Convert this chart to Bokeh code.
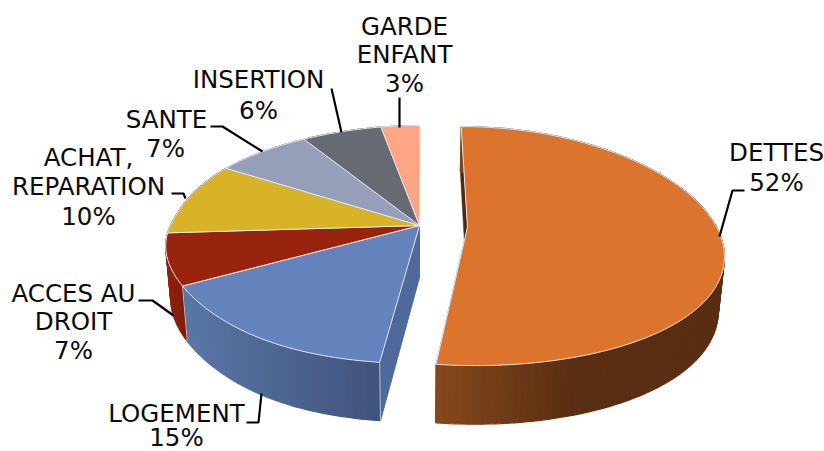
import numpy as np
from bokeh.plotting import figure
from bokeh.models import Range1d
from bokeh.core.properties import value
from bokeh.embed import file_html
from bokeh.resources import INLINE

# ---- data (clockwise from 12 o'clock) ----
categories = ["DETTES", "LOGEMENT", "ACCES AU DROIT", "ACHAT, REPARATION", "SANTE", "INSERTION", "GARDE ENFANT"]
percentages = [52, 15, 7, 10, 7, 6, 3]

# ---- styles ----
top_colors = ["#DD742D", "#6482BC", "#98230E", "#D8B227", "#959FB9", "#676A72", "#FDA585"]
wall_start = ["#86481C", "#5A77A6", "#8F220D", "#8F220D", "#5F6576", "#42444A", "#A16A55"]
wall_end = ["#5A2E12", "#40537C", "#7F1E0B", "#8F220D", "#5F6576", "#42444A", "#A16A55"]
wall_stop = [0.48, 1, 1, 1, 1, 1, 1]
face_colors = ["#4F2810", "#4F6A9A", "#7F1E0B", "#8A7119", "#5F6576", "#42444A", "#A16A55"]
explode = [0.193, 0, 0, 0, 0, 0, 0]
EDGE = "#E3E6EE"

# ---- layout of the perspective pie, in page pixels ----
CX, CY, RX, RY = 419.0, 225.0, 249.0, 116.0
PX, PY, PE = 0.22, 0.16, 0.15
SHRINK = 0.98

label_lines = [
    ("GARDE", 404, 26), ("ENFANT", 404, 54), ("3%", 404, 83),
    ("INSERTION", 258, 79), ("6%", 258, 110),
    ("SANTE", 166, 119), ("7%", 165, 148),
    ("ACHAT,", 88, 157), ("REPARATION", 88, 186), ("10%", 88, 216),
    ("ACCES AU", 73, 293), ("DROIT", 73, 321), ("7%", 73, 350),
    ("LOGEMENT", 176, 413), ("15%", 176, 437),
    ("DETTES", 776, 152), ("52%", 776, 182),
]
leaders = [
    ([744, 732, 719], [190, 190, 236]),
    ([210, 222, 262], [126, 126, 151]),
    ([331, 341], [88, 132]),
    ([399, 399], [97, 127]),
    ([171, 183, 185], [193, 193, 198]),
    ([138, 152, 173], [300, 300, 315]),
    ([246, 258, 261], [422, 422, 393]),
]


def project(theta, ex=0.0, ey=0.0):
    x = np.sin(theta)
    y = np.cos(theta)
    d = 1 + PX * y - 0.15 * y * np.abs(y) * (1 - y ** 2) * (x < 0)
    X = CX + RX * (x / d + ex / (1 + PE * y))
    y2 = y + ey
    return X, CY - RY * y2 / (1 + PY * y2), y2


def lower(X, Y, y):
    return CX + (X - CX) * SHRINK, Y + 52 - 6.5 * y


def mix(a, b, t):
    ca = [int(a[i:i + 2], 16) for i in (1, 3, 5)]
    cb = [int(b[i:i + 2], 16) for i in (1, 3, 5)]
    return "#%02x%02x%02x" % tuple(round(u + (v - u) * t) for u, v in zip(ca, cb))


total = sum(percentages)
edges = np.cumsum([0] + percentages) / total * 2 * np.pi

p = figure(width=824, height=451, output_backend="svg", toolbar_location=None,
           x_range=Range1d(0, 824), y_range=Range1d(451, 0),
           min_border=0, outline_line_color=None, background_fill_color="white")
p.axis.visible = False
p.grid.visible = False

wall_xs, wall_ys, wall_cs = [], [], []
face_xs, face_ys, face_cs = [], [], []
top_xs, top_ys, top_cs = [], [], []
seam_xs, seam_ys = [], []

for i, pct in enumerate(percentages):
    a0, a1 = edges[i], edges[i + 1]
    mid = (a0 + a1) / 2
    ex, ey = explode[i] * np.sin(mid), explode[i] * np.cos(mid)
    th = np.linspace(a0, a1, max(6, int(pct * 3)))
    X, Y, y = project(th, ex, ey)
    BX, BY = lower(X, Y, y)
    apx = CX + RX * ex
    apy = CY - RY * ey / (1 + PY * ey)
    abx, aby = lower(np.array([apx]), np.array([apy]), np.array([ey]))

    # cut faces of the slice
    for k in (0, -1):
        face_xs.append([apx, X[k], BX[k], abx[0]])
        face_ys.append([apy, Y[k], BY[k], aby[0]])
        face_cs.append(face_colors[i])

    # outer wall, in overlapping strips to shade it from left to right
    x0, x1 = X.min(), X.max()
    order = np.argsort((X[:-1] + X[1:]) / 2)
    for j in order:
        n = j + 1
        t = ((X[j] + X[n]) / 2 - x0) / (x1 - x0) / wall_stop[i]
        wall_xs.append([X[j], X[n], BX[n], BX[j]])
        wall_ys.append([Y[j], Y[n], BY[n], BY[j]])
        wall_cs.append(mix(wall_start[i], wall_end[i], min(t, 1)))

    top_xs.append([apx] + list(X))
    top_ys.append([apy] + list(Y))
    top_cs.append(top_colors[i])

    # seam between walls, on the front half
    if i == 1:
        seam_xs += [[X[0], BX[0]], [X[-1], BX[-1]]]
        seam_ys += [[Y[0], BY[0]], [Y[-1], BY[-1]]]

p.patches(face_xs, face_ys, fill_color=face_cs, line_color=face_cs, line_width=0.5)
p.patches(wall_xs, wall_ys, fill_color=wall_cs, line_color=wall_cs, line_width=1.2)
# the near cut face of LOGEMENT stands in front of the walls
p.patches(face_xs[2:3], face_ys[2:3], fill_color=face_cs[2:3], line_color=face_cs[2:3], line_width=0.5)
p.multi_line(seam_xs, seam_ys, line_color="#B9C0D0", line_width=1)
p.patches(top_xs, top_ys, fill_color=top_cs, line_color=EDGE, line_width=1)

p.multi_line([l[0] for l in leaders], [l[1] for l in leaders], line_color="black", line_width=2.2)

p.text(x=[l[1] for l in label_lines], y=[l[2] for l in label_lines], text=[l[0] for l in label_lines],
       text_font=value("DejaVu Sans"), text_font_size="24.5px", text_color="#0a0a0a",
       text_align="center", text_baseline="middle")

open("out.html", "w").write(file_html(p, INLINE))
